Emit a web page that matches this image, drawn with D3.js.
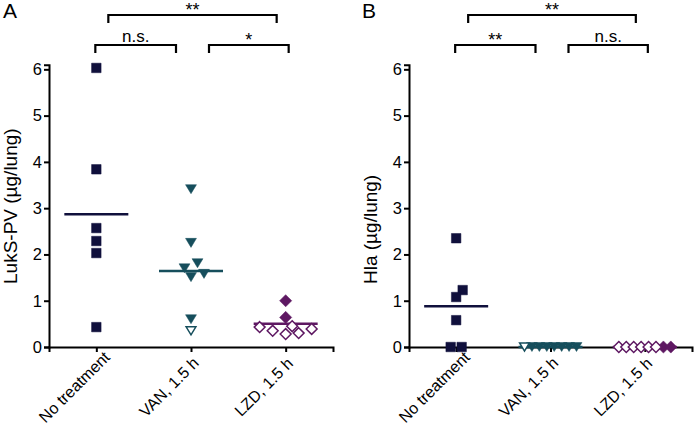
<!DOCTYPE html>
<html><head><meta charset="utf-8">
<script src="https://cdn.jsdelivr.net/npm/d3@7/dist/d3.min.js"></script>
<style>body{margin:0;background:#fff}svg{display:block;font-family:"Liberation Sans",Arial,sans-serif}</style>
</head><body><svg id="c" width="694" height="429"></svg>
<script>
// ---------- data ----------
const categories = ["No treatment", "VAN, 1.5 h", "LZD, 1.5 h"];
const yTicks = [0, 1, 2, 3, 4, 5, 6];

// Panel A: LukS-PV (µg/lung)
const lukNoTreatment = [6.03, 3.84, 2.57, 2.29, 2.03, 0.43];
const lukVanFilled = [3.41, 2.25, 1.81, 1.70, 1.58, 1.51, 0.60];
const lukVanOpen = [0.35];
const lukLzdFilled = [1.00, 0.64];
const lukLzdOpen = [0.45, 0.43, 0.39, 0.35, 0.30, 0.28];
const lukMeans = [2.87, 1.64, 0.50];

// Panel B: Hla (µg/lung)
const hlaNoTreatment = [2.35, 1.23, 1.08, 0.58, 0, 0];
const hlaVanFilled = [0, 0, 0, 0, 0, 0, 0];
const hlaVanOpen = [0];
const hlaLzdFilled = [0, 0];
const hlaLzdOpen = [0, 0, 0, 0, 0, 0];
const hlaMeans = [0.88, 0, 0];

const lukBrackets = [
  {from: 0, to: 2, label: "**", level: 2},
  {from: 0, to: 1, label: "n.s.", level: 1},
  {from: 1, to: 2, label: "*", level: 1}
];
const hlaBrackets = [
  {from: 0, to: 2, label: "**", level: 2},
  {from: 0, to: 1, label: "**", level: 1},
  {from: 1, to: 2, label: "n.s.", level: 1}
];

const colors = ["#10103c", "#164e5c", "#5e1862"];
const shapes = ["square", "triangle", "diamond"];

// ---------- drawing ----------
const svg = d3.select("#c");

function markerPath(shape, s) {
  if (shape === "square") return `M${-s/2},${-s/2}h${s}v${s}h${-s}Z`;
  if (shape === "triangle") { const w = s * 1.15, h = s * 0.95; return `M${-w/2},${-h/2}L${w/2},${-h/2}L0,${h/2}Z`; }
  const r = s * 0.64; return `M0,${-r}L${r},0L0,${r}L${-r},0Z`;
}

function dodge(points, y, cx, step) {
  const byVal = d3.group(points, d => d.v);
  const placed = [];
  const sorted = points.slice().sort((a, b) => a.v - b.v);
  const done = new Set();
  for (const p of sorted) {
    if (done.has(p)) continue;
    const grp = byVal.get(p.v);
    if (grp.length > 1) {
      const g = grp.slice().sort((a, b) => (b.open ? 1 : 0) - (a.open ? 1 : 0));
      const st = Math.min(11, 52 / (g.length - 1));
      g.forEach((q, i) => { q.x = cx + (i - (g.length - 1) / 2) * st; q.y = y(q.v); placed.push(q); done.add(q); });
      continue;
    }
    const py = y(p.v);
    const cands = [0];
    for (let k = 1; k < 12; k++) { cands.push(k * step / 2, -k * step / 2); }
    for (const off of cands) {
      const px = cx + off;
      if (placed.every(q => Math.hypot(q.x - px, q.y - py) >= 9)) { p.x = px; p.y = py; break; }
    }
    placed.push(p); done.add(p);
  }
  return points;
}

function panel(opt) {
  const g = svg.append("g");
  const x = d3.scaleLinear().domain([-0.5, 2.5]).range([opt.x0, opt.x1]);
  const y = d3.scaleLinear().domain([0, 6.1]).range([347, 64.7]);

  // y axis
  const ya = g.append("g").attr("transform", `translate(${opt.x0},0)`)
    .call(d3.axisLeft(y).tickValues(yTicks).tickFormat(d3.format("d")).tickSizeOuter(0).tickSize(5).tickPadding(2));
  ya.select(".domain").attr("stroke", "#000").attr("stroke-width", 2);
  ya.selectAll(".tick line").attr("stroke", "#000").attr("stroke-width", 2);
  ya.selectAll(".tick text").attr("font-size", 16.5).attr("fill", "#000").attr("font-family", "Liberation Sans, Arial, sans-serif");

  // x axis
  const xa = g.append("g").attr("transform", `translate(0,${y(0)})`)
    .call(d3.axisBottom(x).tickValues([0, 1, 2]).tickFormat("").tickSizeOuter(0).tickSize(5));
  xa.select(".domain").attr("stroke", "#000").attr("stroke-width", 2);
  xa.selectAll(".tick line").attr("stroke", "#000").attr("stroke-width", 2);

  // category labels (centred, rotated)
  categories.forEach((c, i) => {
    g.append("text").attr("transform", `translate(${x(i) - 22},${y(0) + 40}) rotate(-45)`)
      .attr("text-anchor", "middle").attr("dy", "0.35em").attr("font-size", 16).text(c);
  });

  // y label
  g.append("text").attr("transform", `translate(${opt.x0 - 32},284) rotate(-90)`)
    .attr("text-anchor", "start").attr("font-size", 19).text(opt.ylabel);

  // panel letter
  g.append("text").attr("x", opt.letterX).attr("y", 18).attr("font-size", 21).text(opt.letter);

  // means
  opt.means.forEach((m, i) => {
    g.append("line").attr("x1", x(i) - 32).attr("x2", x(i) + 32).attr("y1", y(m)).attr("y2", y(m))
      .attr("stroke", colors[i]).attr("stroke-width", 2.5);
  });

  // points
  opt.groups.forEach((grp, i) => {
    const pts = grp.filled.map(v => ({v, open: false})).concat(grp.open.map(v => ({v, open: true})));
    dodge(pts, y, x(i), 13);
    g.selectAll(null).data(pts).enter().append("path")
      .attr("transform", d => `translate(${d.x},${d.y})`)
      .attr("d", d => markerPath(shapes[i], d.open ? 8.5 : 9.5))
      .attr("fill", d => d.open ? "#fff" : colors[i])
      .attr("stroke", colors[i]).attr("stroke-width", d => d.open ? 1.5 : 0.5);
  });

  // brackets
  const levelY = {2: 15, 1: 45};
  opt.brackets.forEach(b => {
    let xa0, xa1;
    if (b.level === 2) { xa0 = x(b.from) + 12; xa1 = x(b.to) - 9; }
    else if (b.from === 0) { xa0 = x(b.from) - 1; xa1 = x(b.to) - 15; }
    else { xa0 = x(b.from) + 18; xa1 = x(b.to) + 3; }
    const by = levelY[b.level];
    g.append("path").attr("d", `M${xa0},${by + 8}V${by}H${xa1}V${by + 8}`)
      .attr("fill", "none").attr("stroke", "#000").attr("stroke-width", 2.2);
    const isStar = b.label.indexOf("*") >= 0;
    g.append("text").attr("x", (xa0 + xa1) / 2).attr("y", isStar ? by + 1 : by - 3)
      .attr("text-anchor", "middle").attr("font-size", isStar ? 18 : 17).text(b.label);
  });
}

panel({x0: 49, x1: 333, letter: "A", letterX: 3, ylabel: "LukS-PV (µg/lung)", means: lukMeans, brackets: lukBrackets,
  groups: [{filled: lukNoTreatment, open: []}, {filled: lukVanFilled, open: lukVanOpen}, {filled: lukLzdFilled, open: lukLzdOpen}]});
panel({x0: 409, x1: 692, letter: "B", letterX: 362, ylabel: "Hla (µg/lung)", means: hlaMeans, brackets: hlaBrackets,
  groups: [{filled: hlaNoTreatment, open: []}, {filled: hlaVanFilled, open: hlaVanOpen}, {filled: hlaLzdFilled, open: hlaLzdOpen}]});
</script></body></html>
